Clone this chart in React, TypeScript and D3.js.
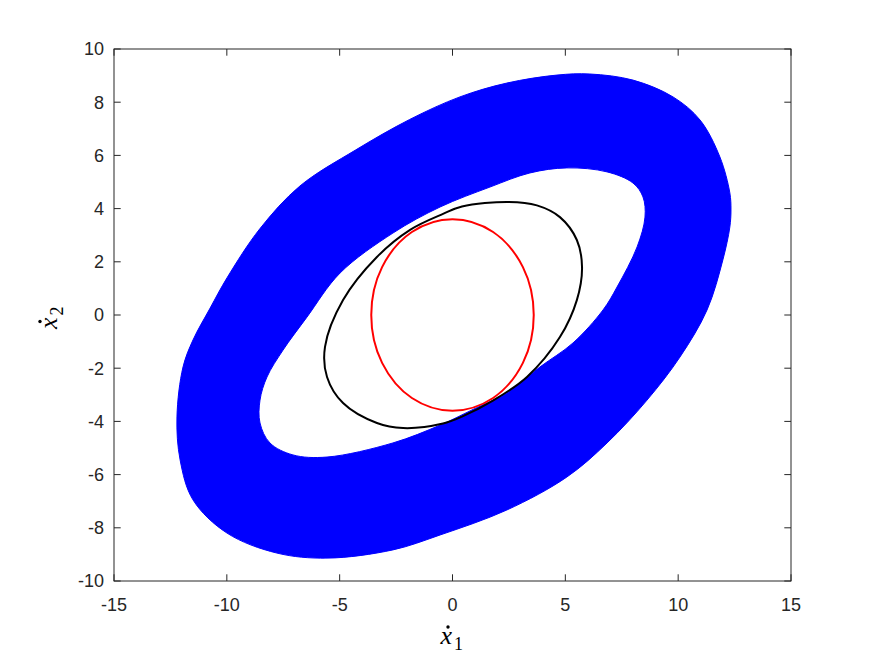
import React from 'react'
import * as d3 from 'd3'

// phase-portrait data (x1dot, x2dot)
const bandOuter: [number, number][] = [
  [6.09, 9.06], [8.0, 8.83], [9.77, 8.2], [10.97, 7.33], [11.85, 5.94], [12.29, 4.59],
  [12.34, 3.95], [12.29, 3.31], [11.98, 2.07], [11.28, 0.19], [10.08, -1.58], [8.62, -3.2],
  [6.85, -4.81], [5.07, -6.09], [2.41, -7.33], [-0.55, -8.27], [-2.64, -8.83], [-5.56, -9.14],
  [-7.78, -8.95], [-9.99, -8.2], [-11.5, -6.95], [-12.07, -5.45], [-12.21, -3.83], [-11.94, -1.95],
  [-11.5, -0.94], [-10.74, 0.26], [-9.99, 1.4], [-8.53, 3.25], [-6.76, 4.85], [-4.3, 6.2],
  [-1.9, 7.35], [0.33, 8.2], [2.41, 8.72], [4.63, 9.02],
]

const bandInner: [number, number][] = [
  [5.07, 5.53], [6.85, 5.38], [8.0, 4.96], [8.44, 4.44], [8.53, 3.68], [8.18, 2.56],
  [7.29, 1.05], [6.67, 0.19], [5.34, -1.05], [3.88, -1.95], [2.41, -2.93], [0.91, -3.55],
  [-0.55, -4.14], [-2.64, -4.81], [-5.56, -5.34], [-7.07, -5.26], [-8.09, -4.81], [-8.53, -4.06],
  [-8.53, -3.2], [-8.22, -2.33], [-7.51, -1.32], [-6.45, -0.08], [-4.98, 1.58], [-2.64, 3.08],
  [-0.55, 4.06], [1.66, 4.81], [3.43, 5.34],
]

const blackCurve: [number, number][] = [
  [2.5, 4.25], [3.74, 4.12], [4.76, 3.68], [5.51, 2.82], [5.74, 1.8], [5.51, 0.56],
  [4.76, -0.83], [3.3, -2.33], [1.79, -3.22], [0.42, -3.82], [-0.42, -4.08], [-2.19, -4.25],
  [-3.35, -4.06], [-4.85, -3.31], [-5.56, -2.33], [-5.65, -1.2], [-4.85, 0.56], [-3.35, 2.18],
  [-1.88, 3.2], [-0.42, 3.8], [0.42, 4.08],
]

const redCurve: [number, number][] = [
  [3.6, 0], [3.12, 1.8], [1.8, 3.12], [0, 3.6], [-1.8, 3.12], [-3.12, 1.8],
  [-3.6, 0], [-3.12, -1.8], [-1.8, -3.12], [0, -3.6], [1.8, -3.12], [3.12, -1.8],
]

const xTicks = [-15, -10, -5, 0, 5, 10, 15]
const yTicks = [-10, -8, -6, -4, -2, 0, 2, 4, 6, 8, 10]

export default function App() {
  const width = 875
  const height = 656
  const m = { l: 114, r: 84, t: 49, b: 75 }
  const x = d3.scaleLinear().domain([-15, 15]).range([m.l, width - m.r])
  const y = d3.scaleLinear().domain([-10, 10]).range([height - m.b, m.t])
  const axisColor = '#262626'
  const tick = 6.7

  const closed = d3.line<[number, number]>()
    .x(d => x(d[0]))
    .y(d => y(d[1]))
    .curve(d3.curveCatmullRomClosed)

  const bandPath = (closed(bandOuter) || '') + (closed(bandInner) || '')

  const [x0, x1] = x.range()
  const [y0, y1] = y.range()

  // latex-like \dot{x}_n label; the dot is a tiny circle over the italic x
  const dotLabel = (sub: string) => (
    <g>
      <text fontFamily="'Liberation Serif', 'DejaVu Serif', serif" fill="#000">
        <tspan fontSize={26} fontStyle="italic">x</tspan>
        <tspan fontSize={18} dx={2} dy={6}>{sub}</tspan>
      </text>
      <circle cx={7.5} cy={-17} r={1.7} fill="#000" />
    </g>
  )

  return (
    <svg width={width} height={height} style={{ position: 'absolute', left: 0, top: 0 }}>
      <rect width={width} height={height} fill="#fff" />
      <path d={bandPath} fill="#0000ff" fillRule="evenodd" stroke="#0000ff" strokeWidth={1} />
      <path d={closed(blackCurve) || ''} fill="none" stroke="#000" strokeWidth={2} />
      <path d={closed(redCurve) || ''} fill="none" stroke="#ff0000" strokeWidth={2} />

      <rect x={x0} y={y1} width={x1 - x0} height={y0 - y1} fill="none" stroke={axisColor} strokeWidth={1} />
      <g stroke={axisColor} strokeWidth={1}>
        {xTicks.map(v => (
          <g key={'xt' + v}>
            <line x1={x(v)} x2={x(v)} y1={y0} y2={y0 - tick} />
            <line x1={x(v)} x2={x(v)} y1={y1} y2={y1 + tick} />
          </g>
        ))}
        {yTicks.map(v => (
          <g key={'yt' + v}>
            <line x1={x0} x2={x0 + tick} y1={y(v)} y2={y(v)} />
            <line x1={x1} x2={x1 - tick} y1={y(v)} y2={y(v)} />
          </g>
        ))}
      </g>
      <g fontFamily="'Liberation Sans', Arial, sans-serif" fontSize={18} fill={axisColor}>
        {xTicks.map(v => (
          <text key={'xl' + v} x={x(v)} y={y0 + 30} textAnchor="middle">{String(v)}</text>
        ))}
        {yTicks.map(v => (
          <text key={'yl' + v} x={x0 - 10} y={y(v)} dy="0.35em" textAnchor="end">{String(v)}</text>
        ))}
      </g>

      <g transform={`translate(${x(0) - 12},${height - 12})`}>{dotLabel('1')}</g>
      <g transform={`translate(57,${y(0) + 14}) rotate(-90)`}>{dotLabel('2')}</g>
    </svg>
  )
}
